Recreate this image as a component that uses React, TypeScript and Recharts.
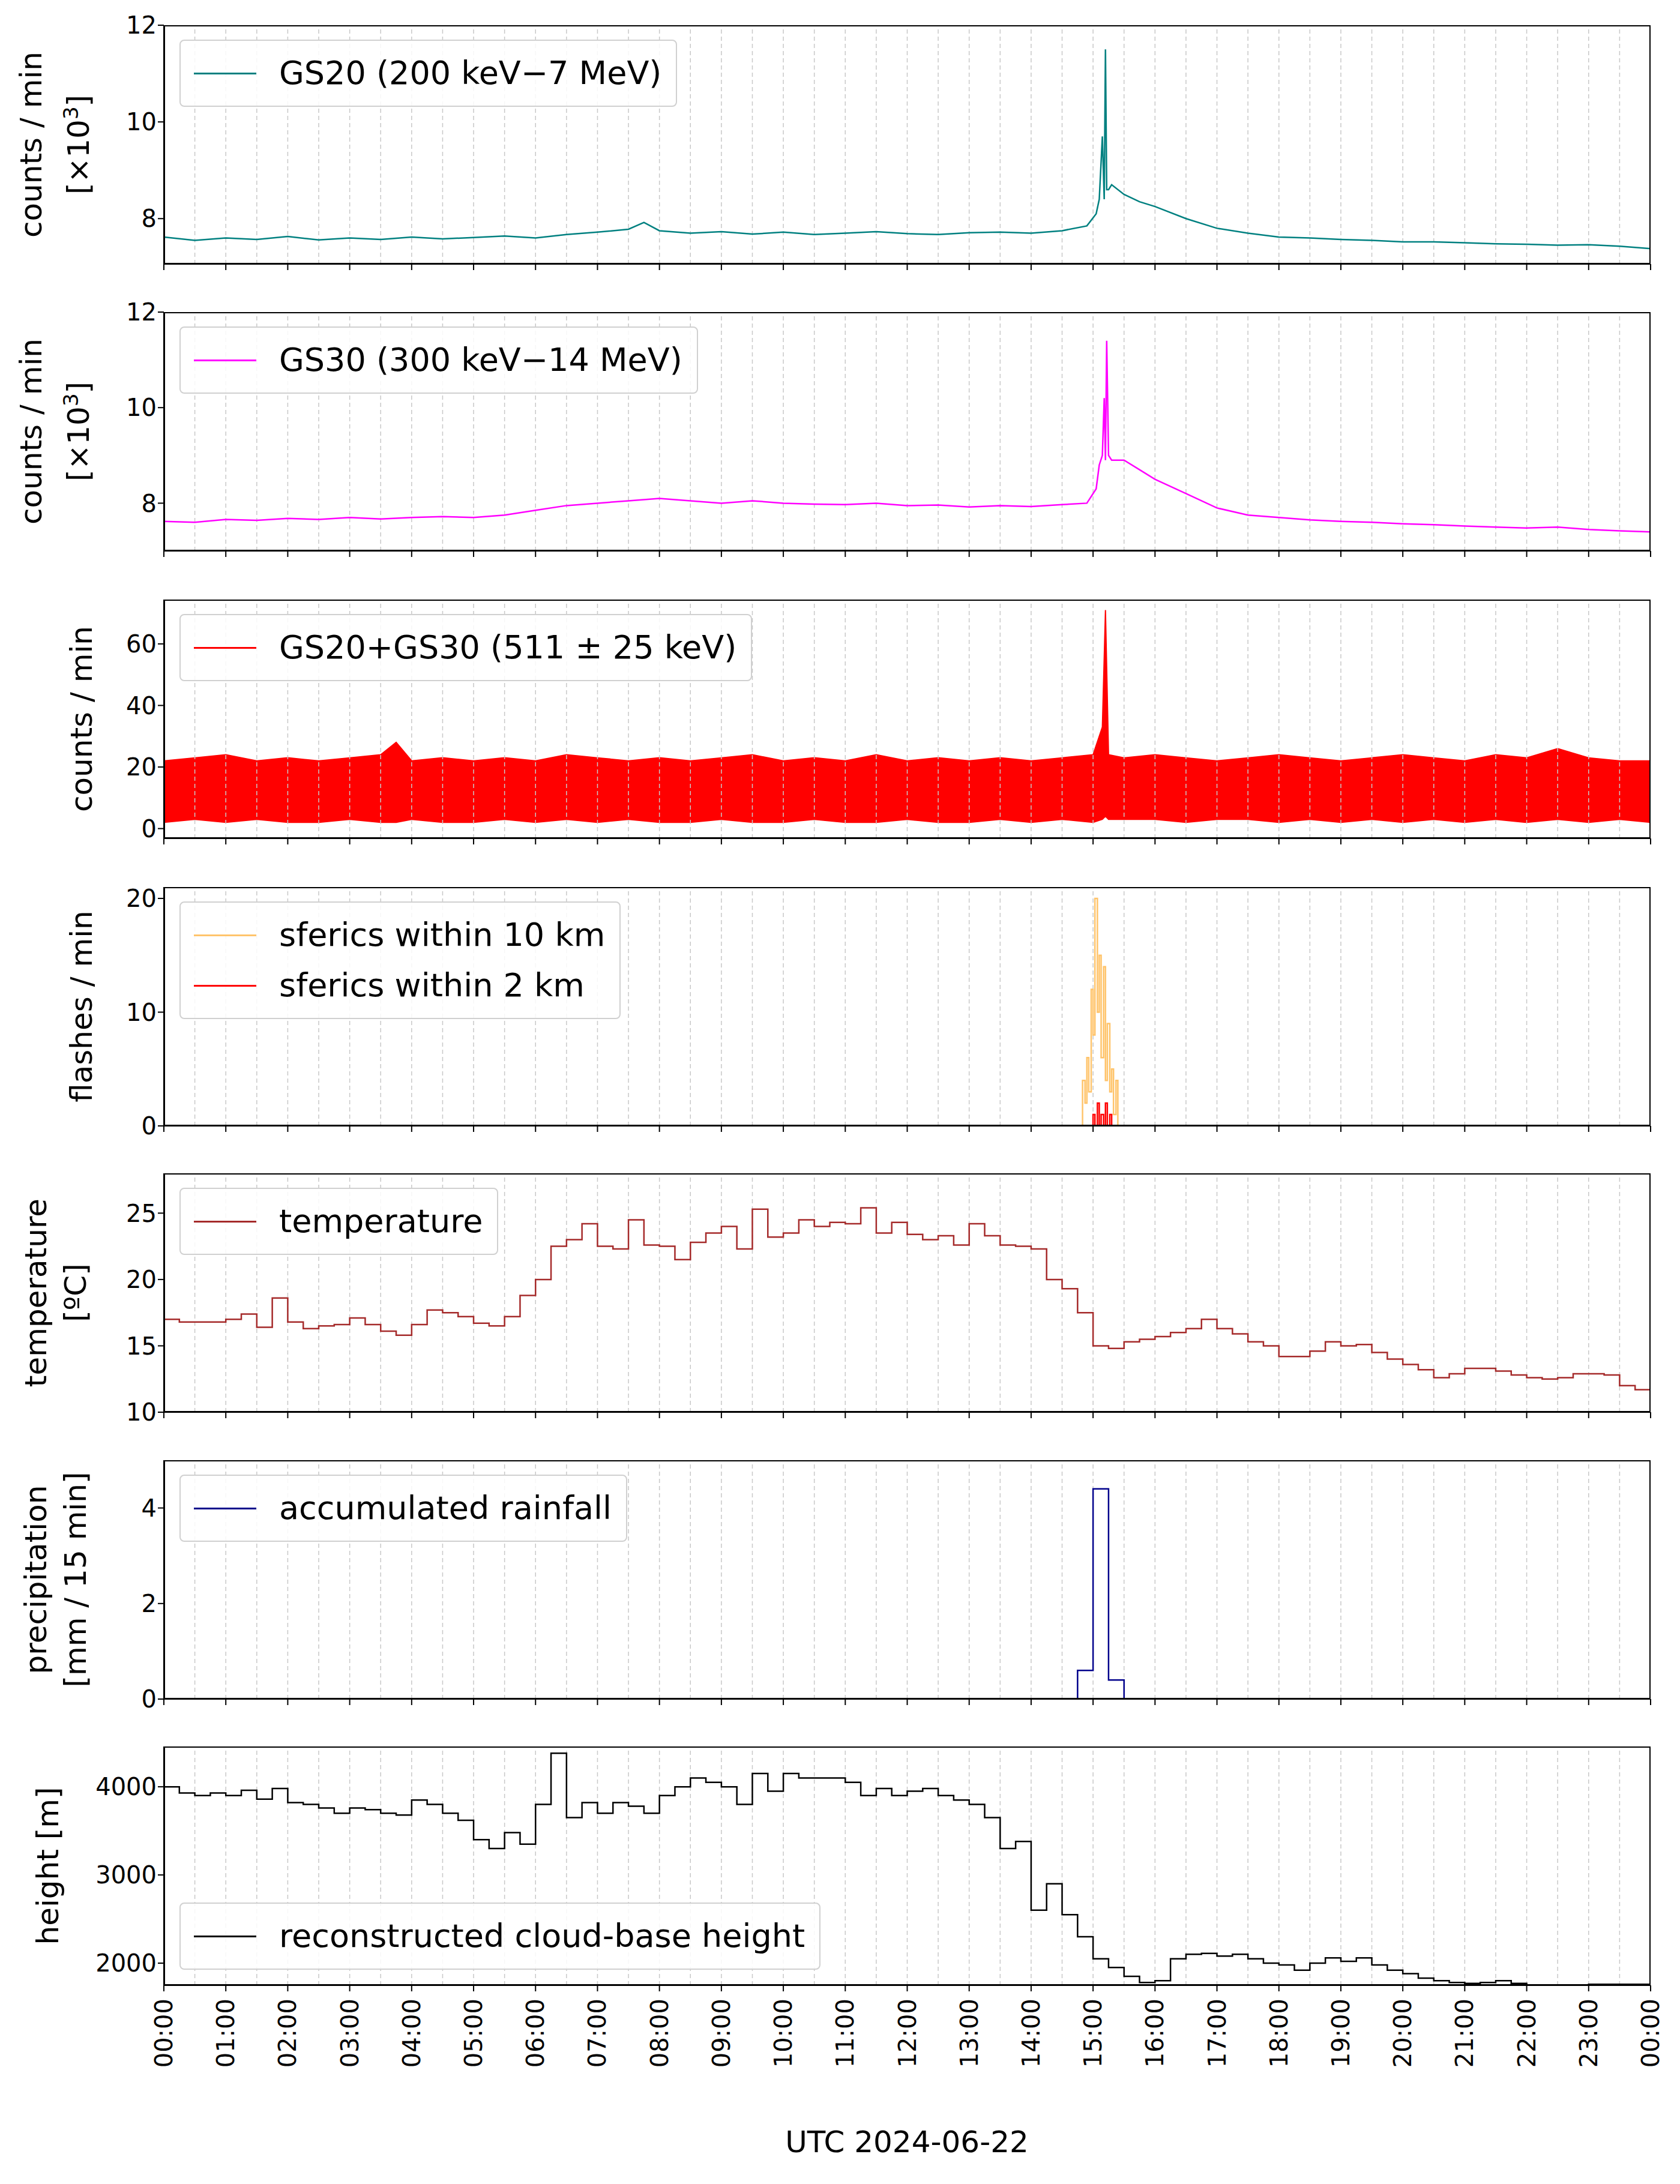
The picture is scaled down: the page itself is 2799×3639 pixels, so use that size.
import React from "react";
import { Line, XAxis, YAxis, ReferenceLine, Area, ComposedChart } from "recharts";

const W = 2799, L = 273, R = 2750, PH = 398, TM = 30;
const TOPS = [42, 520, 999, 1478, 1955, 2433, 2910];
const FONT = "DejaVu Sans, sans-serif";

const HOUR_TICKS = Array.from({ length: 25 }, (_, i) => i);
const HALF_HOURS = Array.from({ length: 49 }, (_, i) => i / 2);

// GS20 (x10^3 counts/min)
const gs20Times = [0,0.5,1,1.5,2,2.5,3,3.5,4,4.5,5,5.5,6,6.5,7,7.5,7.75,8,8.5,9,9.5,10,10.5,11,11.5,12,12.5,13,13.5,14,14.5,14.9,15.05,15.1,15.15,15.18,15.2,15.22,15.25,15.3,15.5,15.75,16,16.5,17,17.5,18,18.5,19,19.5,20,20.5,21,21.5,22,22.5,23,23.5,24];
const gs20Vals = [7.62,7.55,7.6,7.57,7.63,7.56,7.6,7.57,7.62,7.58,7.61,7.64,7.6,7.67,7.72,7.78,7.92,7.75,7.7,7.73,7.68,7.72,7.67,7.7,7.73,7.69,7.67,7.71,7.72,7.7,7.75,7.85,8.1,8.4,9.7,8.4,11.5,8.6,8.6,8.7,8.5,8.35,8.25,8.0,7.8,7.7,7.62,7.6,7.57,7.55,7.52,7.52,7.5,7.48,7.47,7.45,7.46,7.43,7.38];

// GS30 (x10^3 counts/min)
const gs30Times = [0,0.5,1,1.5,2,2.5,3,3.5,4,4.5,5,5.5,6,6.5,7,7.5,8,8.5,9,9.5,10,10.5,11,11.5,12,12.5,13,13.5,14,14.5,14.9,15.05,15.1,15.15,15.18,15.2,15.22,15.25,15.3,15.5,15.75,16,16.5,17,17.5,18,18.5,19,19.5,20,20.5,21,21.5,22,22.5,23,23.5,24];
const gs30Vals = [7.62,7.6,7.66,7.64,7.68,7.66,7.7,7.67,7.7,7.72,7.7,7.75,7.85,7.95,8.0,8.05,8.1,8.05,8.0,8.05,8.0,7.98,7.97,8.0,7.95,7.96,7.92,7.95,7.93,7.97,8.0,8.3,8.8,9.0,10.2,8.9,11.4,9.0,8.9,8.9,8.7,8.5,8.2,7.9,7.75,7.7,7.65,7.62,7.6,7.57,7.55,7.52,7.5,7.48,7.5,7.45,7.42,7.4,7.42];

// GS20+GS30 511 keV band, low/high envelope
const b511Times = [0,0.5,1,1.5,2,2.5,3,3.5,3.75,4,4.5,5,5.5,6,6.5,7,7.5,8,8.5,9,9.5,10,10.5,11,11.5,12,12.5,13,13.5,14,14.5,15,15.15,15.2,15.25,15.5,16,16.5,17,17.5,18,18.5,19,19.5,20,20.5,21,21.5,22,22.5,23,23.5,24];
const b511Lo = [2,3,2,3,2,2,3,2,2,3,2,2,3,2,3,2,3,2,2,3,2,2,3,2,2,3,2,2,3,2,3,2,3,4,3,3,3,2,3,3,2,3,2,3,2,3,2,3,2,3,2,3,2];
const b511Hi = [22,23,24,22,23,22,23,24,28,22,23,22,23,22,24,23,22,23,22,23,24,22,23,22,24,22,23,22,23,22,23,24,33,71,24,23,24,23,22,23,24,23,22,23,24,23,22,24,23,26,23,22,22];

// sferics (flashes/min)
const sf10Times = [14.8,14.83,14.87,14.9,14.93,14.97,15.0,15.03,15.07,15.1,15.13,15.17,15.2,15.23,15.27,15.3,15.33,15.37,15.4];
const sf10Vals = [0,4,2,6,3,12,8,20,10,15,6,14,4,9,3,5,1,4,0];
const sf2Times = [14.97,15.0,15.03,15.07,15.1,15.13,15.17,15.2,15.23,15.27,15.3];
const sf2Vals = [0,1,0,2,0,1,0,2,0,1,0];

// temperature (°C), 15-min steps (96 + end)
const tempVals = [
  17,16.8,16.8,16.8, 17,17.4,16.4,18.6, 16.8,16.3,16.5,16.6, 17.1,16.6,16.1,15.8,
  16.6,17.7,17.5,17.2, 16.7,16.5,17.2,18.8, 20,22.5,23,24.2, 22.5,22.3,24.5,22.6,
  22.5,21.5,22.8,23.5, 24,22.3,25.3,23.2, 23.5,24.5,24,24.3, 24.2,25.4,23.5,24.3,
  23.4,23,23.3,22.6, 24.2,23.3,22.6,22.5, 22.3,20,19.3,17.5, 15,14.8,15.3,15.5,
  15.7,16,16.3,17, 16.3,15.9,15.3,15, 14.2,14.2,14.6,15.3, 15,15.1,14.5,14,
  13.6,13.2,12.6,12.9, 13.3,13.3,13.1,12.8, 12.6,12.5,12.6,12.9, 12.9,12.8,12.0,11.7, 11.7
];
const tempTimes = tempVals.map((_, i) => i * 0.25);

// rainfall (mm / 15 min)
const rainTimes = [14.75, 14.75, 15, 15.25, 15.5, 15.5];
const rainVals = [0, 0.6, 4.4, 0.4, 0.4, 0];

// cloud-base height (m), 15-min steps (96 + end)
const cloudVals = [
  4000,3930,3900,3930, 3900,3960,3860,3980, 3820,3800,3760,3700, 3760,3740,3700,3680,
  3850,3800,3700,3620, 3400,3300,3480,3350, 3800,4380,3650,3820, 3700,3820,3780,3700,
  3900,4000,4100,4050, 4000,3800,4150,3950, 4150,4100,4100,4100, 4050,3900,3980,3900,
  3950,3980,3900,3850, 3800,3650,3300,3380, 2600,2900,2550,2300, 2050,1950,1850,1780,
  1800,2050,2100,2110, 2080,2100,2050,2000, 1980,1920,2000,2060, 2020,2060,1980,1920,
  1880,1830,1800,1780, 1770,1780,1800,1770, 1750,1740,1750,1750, 1760,1760,1760,1760, 1760
];
const cloudTimes = cloudVals.map((_, i) => i * 0.25);

const zip = (t: number[], v: number[], k = "v") => t.map((x, i) => ({ t: x, [k]: v[i] }));
const fmtHour = (h: number) => `${String(h === 24 ? 0 : h).padStart(2, "0")}:00`;

const XTick = (props: any) => {
  const { x, y, payload } = props;
  return (
    <text x={x} y={y + 10} transform={`rotate(-90, ${x}, ${y + 10})`} textAnchor="end" dominantBaseline="central" fontSize={40} fontFamily={FONT} fill="#000">
      {fmtHour(payload.value)}
    </text>
  );
};
const Empty = () => <g />;

type Series = { data: any[]; color: string; type: "linear" | "stepAfter"; width?: number };

function Panel(props: {
  idx: number; domain: [number, number]; ticks: number[]; series: Series[];
  band?: any[]; last?: boolean; yLabel: React.ReactNode[]; yLabelX: number[];
  legend: { label: string; color: string }[]; legendBottom?: boolean;
}) {
  const top = TOPS[props.idx];
  const xh = props.last ? 170 : 40;
  return (
    <div style={{ position: "absolute", left: 0, top: top - TM, width: W, height: PH + xh + TM }}>
      <ComposedChart width={W} height={PH + xh + TM} margin={{ top: TM, left: 0, right: W - R, bottom: 0 }}>
        <XAxis dataKey="t" type="number" domain={[0, 24]} ticks={HOUR_TICKS} allowDataOverflow
          height={xh} tickSize={10} stroke="#000" strokeWidth={2}
          tick={props.last ? <XTick /> : <Empty />} interval={0} />
        <YAxis type="number" domain={props.domain} ticks={props.ticks} allowDataOverflow width={L}
          tickSize={10} stroke="#000" strokeWidth={2} interval={0}
          tick={{ fontSize: 40, fontFamily: FONT, fill: "#000" }} />
        {HALF_HOURS.slice(1, 48).map((h) => (
          <ReferenceLine key={h} x={h} stroke="#c8c8c8" strokeWidth={1.5} strokeDasharray="7 5" />
        ))}
        {props.band && (
          <Area data={props.band} dataKey={(d: any) => [d.lo, d.hi]} type="linear" stroke="#ff0000" strokeWidth={2}
            fill="#ff0000" fillOpacity={1} isAnimationActive={false} dot={false} />
        )}
        {props.series.map((s, i) => (
          <Line key={i} data={s.data} dataKey="v" type={s.type} stroke={s.color} strokeWidth={s.width ?? 2.5}
            dot={false} isAnimationActive={false} />
        ))}
      </ComposedChart>
      <div style={{ position: "absolute", left: L, top: TM, width: R - L, height: PH, border: "2px solid #000", boxSizing: "border-box", pointerEvents: "none" }} />
      <div style={{
        position: "absolute", left: L + 26, top: TM + (props.legendBottom ? PH - 26 - (props.legend.length * 84 + 28) : 24),
        border: "2px solid #d0d0d0", borderRadius: 8, background: "rgba(255,255,255,0.85)", padding: "12px 24px 12px 22px",
        fontFamily: FONT, fontSize: 54, lineHeight: "84px",
      }}>
        {props.legend.map((l, i) => (
          <div key={i} style={{ display: "flex", alignItems: "center", whiteSpace: "nowrap" }}>
            <div style={{ width: 104, height: 3, background: l.color, marginRight: 38 }} />
            <span>{l.label}</span>
          </div>
        ))}
      </div>
      {props.yLabel.map((t, i) => (
        <div key={i} style={{
          position: "absolute", left: props.yLabelX[i] - 300, top: TM + PH / 2 - 35, width: 600, height: 70,
          transform: "rotate(-90deg)", textAlign: "center", fontFamily: FONT, fontSize: 50, lineHeight: "70px", whiteSpace: "nowrap",
        }}>{t}</div>
      ))}
    </div>
  );
}

const x103 = <span>[×10<sup style={{ fontSize: 34 }}>3</sup>]</span>;

export default function App() {
  const gs20 = zip(gs20Times, gs20Vals);
  const gs30 = zip(gs30Times, gs30Vals);
  const band = b511Times.map((t, i) => ({ t, lo: b511Lo[i], hi: b511Hi[i] }));
  return (
    <div style={{ position: "relative", width: W, height: 3639, margin: -8, background: "#fff" }}>
      <Panel idx={0} domain={[7.06, 12]} ticks={[8, 10, 12]} series={[{ data: gs20, color: "#008080", type: "linear" }]}
        yLabel={["counts / min", x103]} yLabelX={[52, 118]} legend={[{ label: "GS20 (200 keV−7 MeV)", color: "#008080" }]} />
      <Panel idx={1} domain={[7.0, 12]} ticks={[8, 10, 12]} series={[{ data: gs30, color: "#ff00ff", type: "linear" }]}
        yLabel={["counts / min", x103]} yLabelX={[52, 118]} legend={[{ label: "GS30 (300 keV−14 MeV)", color: "#ff00ff" }]} />
      <Panel idx={2} domain={[-3.2, 74.4]} ticks={[0, 20, 40, 60]} series={[]} band={band}
        yLabel={["counts / min"]} yLabelX={[136]} legend={[{ label: "GS20+GS30 (511 ± 25 keV)", color: "#ff0000" }]} />
      <Panel idx={3} domain={[0, 21]} ticks={[0, 10, 20]}
        series={[{ data: zip(sf10Times, sf10Vals), color: "#ffc46b", type: "stepAfter" }, { data: zip(sf2Times, sf2Vals), color: "#ff0000", type: "stepAfter" }]}
        yLabel={["flashes / min"]} yLabelX={[136]}
        legend={[{ label: "sferics within 10 km", color: "#ffc46b" }, { label: "sferics within 2 km", color: "#ff0000" }]} />
      <Panel idx={4} domain={[10, 28]} ticks={[10, 15, 20, 25]} series={[{ data: zip(tempTimes, tempVals), color: "#a52a2a", type: "stepAfter" }]}
        yLabel={["temperature", "[ºC]"]} yLabelX={[60, 126]} legend={[{ label: "temperature", color: "#a52a2a" }]} />
      <Panel idx={5} domain={[0, 5]} ticks={[0, 2, 4]} series={[{ data: zip(rainTimes, rainVals), color: "#00008b", type: "stepAfter" }]}
        yLabel={["precipitation", "[mm / 15 min]"]} yLabelX={[60, 126]} legend={[{ label: "accumulated rainfall", color: "#00008b" }]} />
      <Panel idx={6} domain={[1748, 4457]} ticks={[2000, 3000, 4000]} series={[{ data: zip(cloudTimes, cloudVals), color: "#000", type: "stepAfter" }]}
        yLabel={["height [m]"]} yLabelX={[80]} legend={[{ label: "reconstructed cloud-base height", color: "#000" }]} legendBottom last />
      <div style={{ position: "absolute", left: 1111, top: 3540, width: 800, textAlign: "center", fontFamily: FONT, fontSize: 50 }}>
        UTC 2024-06-22
      </div>
    </div>
  );
}
